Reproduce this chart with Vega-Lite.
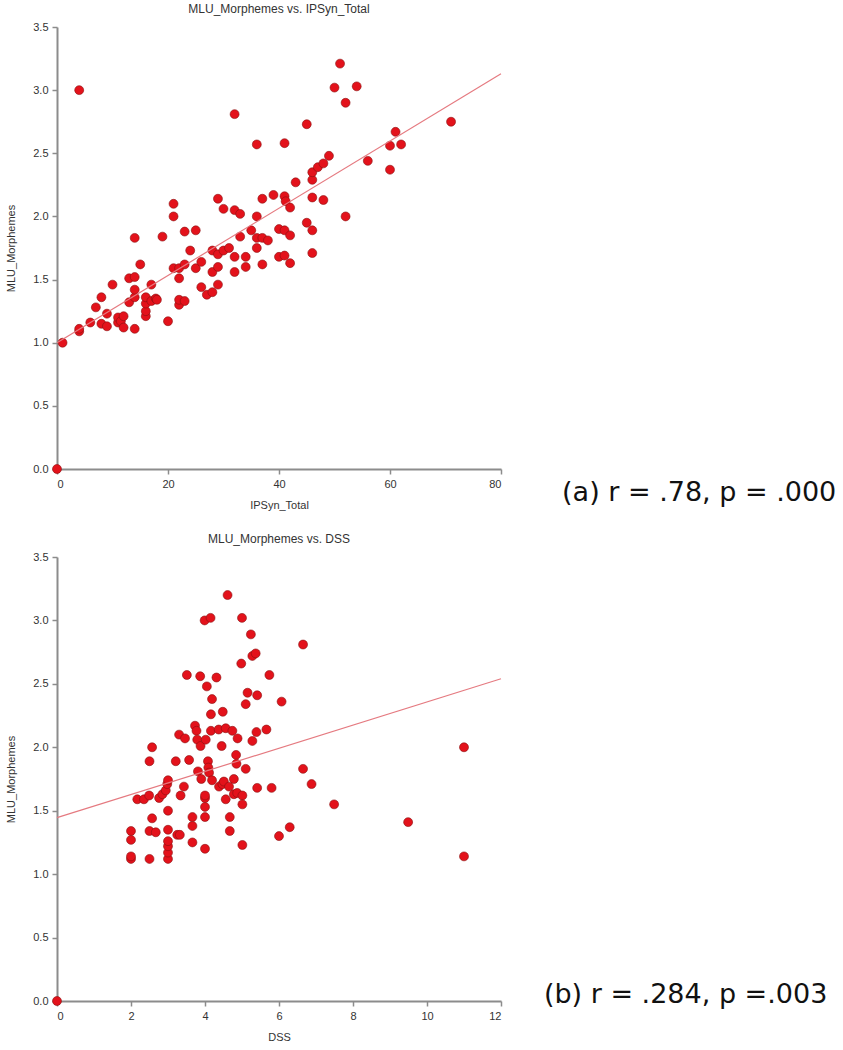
{
  "$schema": "https://vega.github.io/schema/vega-lite/v6.json",
  "padding": {"left": 5, "top": 3, "right": 0, "bottom": 0},
  "config": {
    "view": {"stroke": null},
    "font": "Liberation Sans",
    "axis": {"grid": false, "domainColor": "#8c8c8c", "domainWidth": 2, "tickColor": "#8c8c8c", "tickSize": 5, "tickWidth": 1.5, "labelFont": "Liberation Sans", "labelFontSize": 11, "labelColor": "#333333", "titleFont": "Liberation Sans", "titleFontSize": 11, "titleFontWeight": "normal", "titleColor": "#333333", "labelPadding": 4},
    "axisY": {"titlePadding": 16},
    "axisX": {"titlePadding": 10},
    "title": {"font": "Liberation Sans", "fontSize": 12, "fontWeight": "normal", "color": "#333333", "offset": 5},
    "concat": {"spacing": 23}
  },
  "vconcat": [
    {
      "title": "MLU_Morphemes vs. IPSyn_Total",
      "width": 444,
      "height": 442,
      "layer": [
        {
          "data": {"values": [
            {"IPSyn_Total": 0, "MLU_Morphemes": 0},
            {"IPSyn_Total": 1, "MLU_Morphemes": 1.00},
            {"IPSyn_Total": 4, "MLU_Morphemes": 1.09},
            {"IPSyn_Total": 4, "MLU_Morphemes": 1.11},
            {"IPSyn_Total": 4, "MLU_Morphemes": 3.00},
            {"IPSyn_Total": 6, "MLU_Morphemes": 1.16},
            {"IPSyn_Total": 7, "MLU_Morphemes": 1.28},
            {"IPSyn_Total": 8, "MLU_Morphemes": 1.15},
            {"IPSyn_Total": 8, "MLU_Morphemes": 1.36},
            {"IPSyn_Total": 9, "MLU_Morphemes": 1.13},
            {"IPSyn_Total": 9, "MLU_Morphemes": 1.23},
            {"IPSyn_Total": 10, "MLU_Morphemes": 1.46},
            {"IPSyn_Total": 11, "MLU_Morphemes": 1.16},
            {"IPSyn_Total": 11, "MLU_Morphemes": 1.20},
            {"IPSyn_Total": 11.5, "MLU_Morphemes": 1.17},
            {"IPSyn_Total": 12, "MLU_Morphemes": 1.12},
            {"IPSyn_Total": 12, "MLU_Morphemes": 1.21},
            {"IPSyn_Total": 13, "MLU_Morphemes": 1.32},
            {"IPSyn_Total": 13, "MLU_Morphemes": 1.51},
            {"IPSyn_Total": 14, "MLU_Morphemes": 1.11},
            {"IPSyn_Total": 14, "MLU_Morphemes": 1.36},
            {"IPSyn_Total": 14, "MLU_Morphemes": 1.42},
            {"IPSyn_Total": 14, "MLU_Morphemes": 1.52},
            {"IPSyn_Total": 14, "MLU_Morphemes": 1.83},
            {"IPSyn_Total": 15, "MLU_Morphemes": 1.62},
            {"IPSyn_Total": 16, "MLU_Morphemes": 1.21},
            {"IPSyn_Total": 16, "MLU_Morphemes": 1.25},
            {"IPSyn_Total": 16, "MLU_Morphemes": 1.31},
            {"IPSyn_Total": 16, "MLU_Morphemes": 1.36},
            {"IPSyn_Total": 17, "MLU_Morphemes": 1.33},
            {"IPSyn_Total": 17, "MLU_Morphemes": 1.46},
            {"IPSyn_Total": 17.8, "MLU_Morphemes": 1.35},
            {"IPSyn_Total": 18, "MLU_Morphemes": 1.34},
            {"IPSyn_Total": 19, "MLU_Morphemes": 1.84},
            {"IPSyn_Total": 20, "MLU_Morphemes": 1.17},
            {"IPSyn_Total": 21, "MLU_Morphemes": 1.59},
            {"IPSyn_Total": 21, "MLU_Morphemes": 2.00},
            {"IPSyn_Total": 21, "MLU_Morphemes": 2.10},
            {"IPSyn_Total": 22, "MLU_Morphemes": 1.30},
            {"IPSyn_Total": 22, "MLU_Morphemes": 1.34},
            {"IPSyn_Total": 22, "MLU_Morphemes": 1.51},
            {"IPSyn_Total": 22, "MLU_Morphemes": 1.59},
            {"IPSyn_Total": 23, "MLU_Morphemes": 1.33},
            {"IPSyn_Total": 23, "MLU_Morphemes": 1.62},
            {"IPSyn_Total": 23, "MLU_Morphemes": 1.88},
            {"IPSyn_Total": 24, "MLU_Morphemes": 1.73},
            {"IPSyn_Total": 25, "MLU_Morphemes": 1.59},
            {"IPSyn_Total": 25, "MLU_Morphemes": 1.89},
            {"IPSyn_Total": 26, "MLU_Morphemes": 1.44},
            {"IPSyn_Total": 26, "MLU_Morphemes": 1.64},
            {"IPSyn_Total": 27, "MLU_Morphemes": 1.38},
            {"IPSyn_Total": 28, "MLU_Morphemes": 1.40},
            {"IPSyn_Total": 28, "MLU_Morphemes": 1.56},
            {"IPSyn_Total": 28, "MLU_Morphemes": 1.73},
            {"IPSyn_Total": 29, "MLU_Morphemes": 1.46},
            {"IPSyn_Total": 29, "MLU_Morphemes": 1.60},
            {"IPSyn_Total": 29, "MLU_Morphemes": 1.70},
            {"IPSyn_Total": 29, "MLU_Morphemes": 2.14},
            {"IPSyn_Total": 30, "MLU_Morphemes": 1.73},
            {"IPSyn_Total": 30, "MLU_Morphemes": 2.06},
            {"IPSyn_Total": 31, "MLU_Morphemes": 1.75},
            {"IPSyn_Total": 32, "MLU_Morphemes": 1.56},
            {"IPSyn_Total": 32, "MLU_Morphemes": 1.68},
            {"IPSyn_Total": 32, "MLU_Morphemes": 2.05},
            {"IPSyn_Total": 32, "MLU_Morphemes": 2.81},
            {"IPSyn_Total": 33, "MLU_Morphemes": 1.84},
            {"IPSyn_Total": 33, "MLU_Morphemes": 2.02},
            {"IPSyn_Total": 34, "MLU_Morphemes": 1.60},
            {"IPSyn_Total": 34, "MLU_Morphemes": 1.68},
            {"IPSyn_Total": 35, "MLU_Morphemes": 1.89},
            {"IPSyn_Total": 36, "MLU_Morphemes": 1.75},
            {"IPSyn_Total": 36, "MLU_Morphemes": 1.83},
            {"IPSyn_Total": 36, "MLU_Morphemes": 2.00},
            {"IPSyn_Total": 36, "MLU_Morphemes": 2.57},
            {"IPSyn_Total": 37, "MLU_Morphemes": 1.62},
            {"IPSyn_Total": 37, "MLU_Morphemes": 1.83},
            {"IPSyn_Total": 37, "MLU_Morphemes": 2.14},
            {"IPSyn_Total": 38, "MLU_Morphemes": 1.81},
            {"IPSyn_Total": 39, "MLU_Morphemes": 2.17},
            {"IPSyn_Total": 40, "MLU_Morphemes": 1.68},
            {"IPSyn_Total": 40, "MLU_Morphemes": 1.90},
            {"IPSyn_Total": 41, "MLU_Morphemes": 1.69},
            {"IPSyn_Total": 41, "MLU_Morphemes": 1.89},
            {"IPSyn_Total": 41, "MLU_Morphemes": 2.16},
            {"IPSyn_Total": 41, "MLU_Morphemes": 2.58},
            {"IPSyn_Total": 41.2, "MLU_Morphemes": 2.12},
            {"IPSyn_Total": 42, "MLU_Morphemes": 1.63},
            {"IPSyn_Total": 42, "MLU_Morphemes": 1.85},
            {"IPSyn_Total": 42, "MLU_Morphemes": 2.07},
            {"IPSyn_Total": 43, "MLU_Morphemes": 2.27},
            {"IPSyn_Total": 45, "MLU_Morphemes": 1.95},
            {"IPSyn_Total": 45, "MLU_Morphemes": 2.73},
            {"IPSyn_Total": 46, "MLU_Morphemes": 1.71},
            {"IPSyn_Total": 46, "MLU_Morphemes": 1.89},
            {"IPSyn_Total": 46, "MLU_Morphemes": 2.15},
            {"IPSyn_Total": 46, "MLU_Morphemes": 2.29},
            {"IPSyn_Total": 46, "MLU_Morphemes": 2.35},
            {"IPSyn_Total": 47, "MLU_Morphemes": 2.39},
            {"IPSyn_Total": 48, "MLU_Morphemes": 2.13},
            {"IPSyn_Total": 48, "MLU_Morphemes": 2.42},
            {"IPSyn_Total": 49, "MLU_Morphemes": 2.48},
            {"IPSyn_Total": 50, "MLU_Morphemes": 3.02},
            {"IPSyn_Total": 51, "MLU_Morphemes": 3.21},
            {"IPSyn_Total": 52, "MLU_Morphemes": 2.00},
            {"IPSyn_Total": 52, "MLU_Morphemes": 2.90},
            {"IPSyn_Total": 54, "MLU_Morphemes": 3.03},
            {"IPSyn_Total": 56, "MLU_Morphemes": 2.44},
            {"IPSyn_Total": 60, "MLU_Morphemes": 2.37},
            {"IPSyn_Total": 60, "MLU_Morphemes": 2.56},
            {"IPSyn_Total": 61, "MLU_Morphemes": 2.67},
            {"IPSyn_Total": 62, "MLU_Morphemes": 2.57},
            {"IPSyn_Total": 71, "MLU_Morphemes": 2.75}
          ]},
          "mark": {"type": "circle", "size": 80, "color": "#e3121b", "stroke": "#8a1010", "strokeWidth": 0.6, "opacity": 1},
          "encoding": {
            "x": {"field": "IPSyn_Total", "type": "quantitative", "scale": {"domain": [0, 80], "nice": false}, "axis": {"values": [0, 20, 40, 60, 80], "title": "IPSyn_Total"}},
            "y": {"field": "MLU_Morphemes", "type": "quantitative", "scale": {"domain": [0, 3.5], "nice": false}, "axis": {"values": [0, 0.5, 1, 1.5, 2, 2.5, 3, 3.5], "format": ".1f", "title": "MLU_Morphemes"}}
          }
        },
        {
          "data": {"values": [
            {"IPSyn_Total": 0, "MLU_Morphemes": 1.0},
            {"IPSyn_Total": 80, "MLU_Morphemes": 3.13}
          ]},
          "mark": {"type": "line", "color": "#e57a80", "strokeWidth": 1.2},
          "encoding": {
            "x": {"field": "IPSyn_Total", "type": "quantitative"},
            "y": {"field": "MLU_Morphemes", "type": "quantitative"}
          }
        },
        {
          "data": {"values": [{"label": "(a) r = .78, p = .000"}]},
          "mark": {"type": "text", "align": "left", "baseline": "middle", "font": "DejaVu Sans", "fontSize": 27, "color": "#111111"},
          "encoding": {
            "x": {"datum": 91},
            "y": {"datum": -0.19},
            "text": {"field": "label"}
          }
        }
      ]
    },
    {
      "title": "MLU_Morphemes vs. DSS",
      "width": 444,
      "height": 444,
      "layer": [
        {
          "data": {"values": [
            {"DSS": 0, "MLU_Morphemes": 0},
            {"DSS": 2.0, "MLU_Morphemes": 1.12},
            {"DSS": 2.0, "MLU_Morphemes": 1.14},
            {"DSS": 2.0, "MLU_Morphemes": 1.27},
            {"DSS": 2.0, "MLU_Morphemes": 1.34},
            {"DSS": 2.17, "MLU_Morphemes": 1.59},
            {"DSS": 2.35, "MLU_Morphemes": 1.59},
            {"DSS": 2.49, "MLU_Morphemes": 1.62},
            {"DSS": 2.5, "MLU_Morphemes": 1.12},
            {"DSS": 2.5, "MLU_Morphemes": 1.34},
            {"DSS": 2.5, "MLU_Morphemes": 1.89},
            {"DSS": 2.57, "MLU_Morphemes": 1.44},
            {"DSS": 2.57, "MLU_Morphemes": 2.00},
            {"DSS": 2.67, "MLU_Morphemes": 1.33},
            {"DSS": 2.76, "MLU_Morphemes": 1.60},
            {"DSS": 2.85, "MLU_Morphemes": 1.63},
            {"DSS": 2.94, "MLU_Morphemes": 1.66},
            {"DSS": 3.0, "MLU_Morphemes": 1.12},
            {"DSS": 3.0, "MLU_Morphemes": 1.17},
            {"DSS": 3.0, "MLU_Morphemes": 1.22},
            {"DSS": 3.0, "MLU_Morphemes": 1.26},
            {"DSS": 3.0, "MLU_Morphemes": 1.35},
            {"DSS": 3.0, "MLU_Morphemes": 1.50},
            {"DSS": 2.98, "MLU_Morphemes": 1.71},
            {"DSS": 3.0, "MLU_Morphemes": 1.74},
            {"DSS": 3.21, "MLU_Morphemes": 1.89},
            {"DSS": 3.25, "MLU_Morphemes": 1.31},
            {"DSS": 3.32, "MLU_Morphemes": 1.31},
            {"DSS": 3.30, "MLU_Morphemes": 2.10},
            {"DSS": 3.34, "MLU_Morphemes": 1.62},
            {"DSS": 3.43, "MLU_Morphemes": 1.69},
            {"DSS": 3.46, "MLU_Morphemes": 2.07},
            {"DSS": 3.51, "MLU_Morphemes": 2.57},
            {"DSS": 3.57, "MLU_Morphemes": 1.90},
            {"DSS": 3.66, "MLU_Morphemes": 1.25},
            {"DSS": 3.66, "MLU_Morphemes": 1.38},
            {"DSS": 3.66, "MLU_Morphemes": 1.45},
            {"DSS": 3.73, "MLU_Morphemes": 2.17},
            {"DSS": 3.77, "MLU_Morphemes": 2.13},
            {"DSS": 3.79, "MLU_Morphemes": 2.06},
            {"DSS": 3.81, "MLU_Morphemes": 1.81},
            {"DSS": 3.87, "MLU_Morphemes": 2.56},
            {"DSS": 3.88, "MLU_Morphemes": 2.01},
            {"DSS": 3.90, "MLU_Morphemes": 1.75},
            {"DSS": 4.0, "MLU_Morphemes": 1.20},
            {"DSS": 4.0, "MLU_Morphemes": 1.45},
            {"DSS": 4.0, "MLU_Morphemes": 1.53},
            {"DSS": 4.0, "MLU_Morphemes": 1.60},
            {"DSS": 4.0, "MLU_Morphemes": 1.62},
            {"DSS": 3.99, "MLU_Morphemes": 3.00},
            {"DSS": 4.02, "MLU_Morphemes": 2.06},
            {"DSS": 4.05, "MLU_Morphemes": 2.48},
            {"DSS": 4.08, "MLU_Morphemes": 1.89},
            {"DSS": 4.09, "MLU_Morphemes": 1.84},
            {"DSS": 4.11, "MLU_Morphemes": 1.80},
            {"DSS": 4.15, "MLU_Morphemes": 3.02},
            {"DSS": 4.16, "MLU_Morphemes": 2.13},
            {"DSS": 4.16, "MLU_Morphemes": 2.26},
            {"DSS": 4.19, "MLU_Morphemes": 2.38},
            {"DSS": 4.19, "MLU_Morphemes": 1.74},
            {"DSS": 4.31, "MLU_Morphemes": 2.55},
            {"DSS": 4.37, "MLU_Morphemes": 2.14},
            {"DSS": 4.38, "MLU_Morphemes": 1.69},
            {"DSS": 4.45, "MLU_Morphemes": 2.01},
            {"DSS": 4.47, "MLU_Morphemes": 1.71},
            {"DSS": 4.48, "MLU_Morphemes": 2.28},
            {"DSS": 4.51, "MLU_Morphemes": 1.73},
            {"DSS": 4.56, "MLU_Morphemes": 2.15},
            {"DSS": 4.56, "MLU_Morphemes": 1.59},
            {"DSS": 4.61, "MLU_Morphemes": 3.20},
            {"DSS": 4.65, "MLU_Morphemes": 1.69},
            {"DSS": 4.67, "MLU_Morphemes": 1.45},
            {"DSS": 4.67, "MLU_Morphemes": 1.34},
            {"DSS": 4.74, "MLU_Morphemes": 2.13},
            {"DSS": 4.78, "MLU_Morphemes": 1.75},
            {"DSS": 4.78, "MLU_Morphemes": 1.63},
            {"DSS": 4.84, "MLU_Morphemes": 1.94},
            {"DSS": 4.85, "MLU_Morphemes": 1.87},
            {"DSS": 4.87, "MLU_Morphemes": 1.64},
            {"DSS": 4.88, "MLU_Morphemes": 2.07},
            {"DSS": 4.98, "MLU_Morphemes": 2.66},
            {"DSS": 5.0, "MLU_Morphemes": 3.02},
            {"DSS": 5.01, "MLU_Morphemes": 1.62},
            {"DSS": 5.01, "MLU_Morphemes": 1.55},
            {"DSS": 5.01, "MLU_Morphemes": 1.23},
            {"DSS": 5.10, "MLU_Morphemes": 1.83},
            {"DSS": 5.10, "MLU_Morphemes": 2.34},
            {"DSS": 5.15, "MLU_Morphemes": 2.43},
            {"DSS": 5.24, "MLU_Morphemes": 2.89},
            {"DSS": 5.28, "MLU_Morphemes": 2.72},
            {"DSS": 5.28, "MLU_Morphemes": 2.05},
            {"DSS": 5.37, "MLU_Morphemes": 2.74},
            {"DSS": 5.39, "MLU_Morphemes": 2.12},
            {"DSS": 5.41, "MLU_Morphemes": 2.41},
            {"DSS": 5.41, "MLU_Morphemes": 1.68},
            {"DSS": 5.66, "MLU_Morphemes": 2.14},
            {"DSS": 5.74, "MLU_Morphemes": 2.57},
            {"DSS": 5.80, "MLU_Morphemes": 1.68},
            {"DSS": 6.0, "MLU_Morphemes": 1.30},
            {"DSS": 6.07, "MLU_Morphemes": 2.36},
            {"DSS": 6.29, "MLU_Morphemes": 1.37},
            {"DSS": 6.65, "MLU_Morphemes": 2.81},
            {"DSS": 6.65, "MLU_Morphemes": 1.83},
            {"DSS": 6.88, "MLU_Morphemes": 1.71},
            {"DSS": 7.49, "MLU_Morphemes": 1.55},
            {"DSS": 9.49, "MLU_Morphemes": 1.41},
            {"DSS": 11.0, "MLU_Morphemes": 2.00},
            {"DSS": 11.0, "MLU_Morphemes": 1.14}
          ]},
          "mark": {"type": "circle", "size": 80, "color": "#e3121b", "stroke": "#8a1010", "strokeWidth": 0.6, "opacity": 1},
          "encoding": {
            "x": {"field": "DSS", "type": "quantitative", "scale": {"domain": [0, 12], "nice": false}, "axis": {"values": [0, 2, 4, 6, 8, 10, 12], "title": "DSS"}},
            "y": {"field": "MLU_Morphemes", "type": "quantitative", "scale": {"domain": [0, 3.5], "nice": false}, "axis": {"values": [0, 0.5, 1, 1.5, 2, 2.5, 3, 3.5], "format": ".1f", "title": "MLU_Morphemes"}}
          }
        },
        {
          "data": {"values": [
            {"DSS": 0, "MLU_Morphemes": 1.445},
            {"DSS": 12, "MLU_Morphemes": 2.54}
          ]},
          "mark": {"type": "line", "color": "#e57a80", "strokeWidth": 1.2},
          "encoding": {
            "x": {"field": "DSS", "type": "quantitative"},
            "y": {"field": "MLU_Morphemes", "type": "quantitative"}
          }
        },
        {
          "data": {"values": [{"label": "(b) r = .284, p =.003"}]},
          "mark": {"type": "text", "align": "left", "baseline": "middle", "font": "DejaVu Sans", "fontSize": 27, "color": "#111111"},
          "encoding": {
            "x": {"datum": 13.16},
            "y": {"datum": 0.05},
            "text": {"field": "label"}
          }
        }
      ]
    }
  ]
}
